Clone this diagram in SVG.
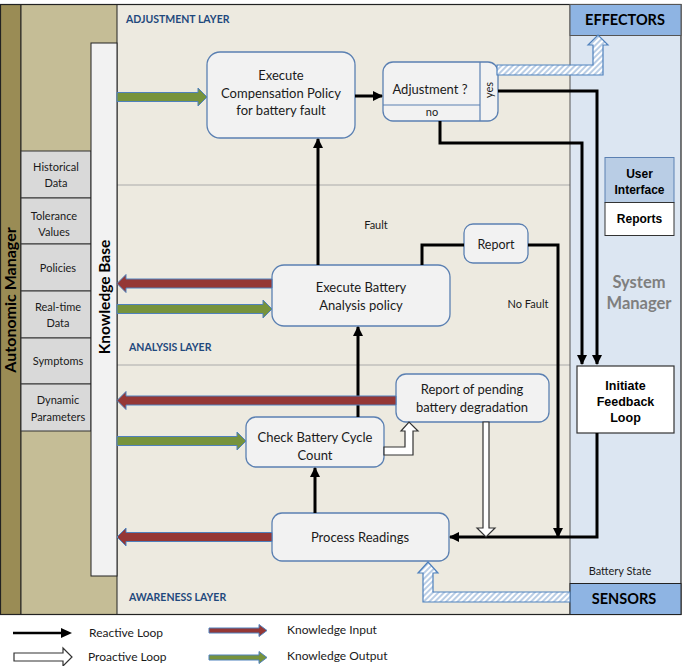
<svg xmlns="http://www.w3.org/2000/svg" width="685" height="666" viewBox="0 0 685 666">
<style>
.t{font-family:Lato,"Liberation Sans",sans-serif;fill:#1a1a1a}
.c{text-anchor:middle}
.lay{font-family:Lato,"Liberation Sans",sans-serif;font-weight:bold;font-size:10.5px;fill:#1f497d}
.a{font-family:"Liberation Sans",Arial,sans-serif;font-weight:bold;fill:#000;text-anchor:middle}
.box{fill:#f2f2f2;stroke:#5b80b2;stroke-width:1.3}
.item{fill:#d9d9d9;stroke:#333;stroke-width:1}
.ln{fill:none;stroke:#000;stroke-width:3}
.red{fill:#953735;stroke:#4f81bd;stroke-width:1}
.grn{fill:#77933c;stroke:#4f81bd;stroke-width:1}
.hol{fill:#fff;stroke:#333;stroke-width:1.2}
.hat{fill:url(#hatch);stroke:#4f81bd;stroke-width:1.2}
</style>
<defs>
<marker id="ah" markerWidth="10" markerHeight="10" viewBox="0 0 10 10" refX="9" refY="5" orient="auto" markerUnits="userSpaceOnUse">
<path d="M0,0 L10,5 L0,10 z" fill="#000"/>
</marker>
<pattern id="hatch" patternUnits="userSpaceOnUse" width="4" height="4" patternTransform="rotate(45)">
<rect width="4" height="4" fill="#fff"/>
<rect width="2" height="4" fill="#b9cde5"/>
</pattern>
</defs>

<g id="background">
<rect x="0" y="0" width="685" height="666" fill="#fff"/>
<rect x="117" y="4.5" width="453" height="610" fill="#edeae0"/>
<rect x="570" y="4.5" width="111" height="610" fill="#dce6f2"/>
<line x1="117" y1="185" x2="570" y2="185" stroke="#aaa" stroke-width="1"/>
<line x1="117" y1="365" x2="570" y2="365" stroke="#aaa" stroke-width="1"/>
<rect x="0.5" y="4.5" width="20.5" height="610" fill="#9a8c55" stroke="#222" stroke-width="1"/>
<rect x="21" y="4.5" width="96" height="610" fill="#c5bd96" stroke="#222" stroke-width="1"/>
<rect x="0.5" y="4.5" width="680.5" height="610" fill="none" stroke="#222" stroke-width="1.2"/>
<line x1="570" y1="4.5" x2="570" y2="614.5" stroke="#555" stroke-width="1"/>
</g>

<g id="autonomic-manager">
<text class="t" transform="translate(16,300) rotate(-90)" text-anchor="middle" font-size="16" font-weight="bold" style="fill:#000">Autonomic Manager</text>
</g>

<g id="knowledge-items">
<rect class="item" x="21" y="151" width="70" height="47"/>
<text class="t c" x="56" y="171" font-size="11">Historical</text>
<text class="t c" x="56" y="187" font-size="11">Data</text>
<rect class="item" x="21" y="198" width="70" height="46"/>
<text class="t c" x="54" y="220" font-size="11">Tolerance</text>
<text class="t c" x="54" y="236" font-size="11">Values</text>
<rect class="item" x="21" y="244" width="70" height="47"/>
<text class="t c" x="58" y="272" font-size="11">Policies</text>
<rect class="item" x="21" y="291" width="70" height="47"/>
<text class="t c" x="58" y="311" font-size="11">Real-time</text>
<text class="t c" x="58" y="327" font-size="11">Data</text>
<rect class="item" x="21" y="338" width="70" height="46"/>
<text class="t c" x="58" y="365" font-size="11">Symptoms</text>
<rect class="item" x="21" y="384" width="70" height="47"/>
<text class="t c" x="58" y="404" font-size="11">Dynamic</text>
<text class="t c" x="58" y="421" font-size="11">Parameters</text>
</g>

<g id="knowledge-base">
<rect x="91" y="43" width="26" height="533" fill="#f2f2f2" stroke="#222" stroke-width="1"/>
<text class="t" transform="translate(109.5,297) rotate(-90)" text-anchor="middle" font-size="15.5" font-weight="bold" style="fill:#000">Knowledge Base</text>
</g>

<g id="layer-labels">
<text class="lay" x="126" y="23">ADJUSTMENT LAYER</text>
<text class="lay" x="129" y="351">ANALYSIS LAYER</text>
<text class="lay" x="129" y="601">AWARENESS LAYER</text>
</g>

<g id="effectors">
<rect x="570" y="4.5" width="111" height="31" fill="#8eb4e3" stroke="#555" stroke-width="1"/>
<text class="t c" x="625" y="25" font-size="14.5" font-weight="bold" style="fill:#000">EFFECTORS</text>
</g>
<g id="sensors">
<rect x="570" y="583.5" width="111" height="31" fill="#8eb4e3" stroke="#222" stroke-width="1"/>
<text class="t c" x="624" y="604" font-size="14.5" font-weight="bold" style="fill:#000">SENSORS</text>
</g>
<g id="system-manager">
<text class="t c" x="639" y="288" font-size="16.5" font-weight="bold" style="fill:#7f7f7f">System</text>
<text class="t c" x="639" y="309" font-size="16.5" font-weight="bold" style="fill:#7f7f7f">Manager</text>
<text class="t c" x="620" y="575" font-size="11">Battery State</text>
</g>
<g id="user-interface">
<rect x="605" y="157.5" width="69" height="45" fill="#b9cde5" stroke="#5b80b2" stroke-width="1"/>
<rect x="605" y="202.5" width="69" height="33" fill="#fff" stroke="#333" stroke-width="1"/>
<text class="a" x="639.5" y="178" font-size="12">User</text>
<text class="a" x="639.5" y="194" font-size="12">Interface</text>
<text class="a" x="639.5" y="223" font-size="12">Reports</text>
</g>

<g id="compensation">
<rect class="box" x="207" y="52" width="148" height="86" rx="13"/>
<text class="t c" x="281" y="80" font-size="13">Execute</text>
<text class="t c" x="281" y="98" font-size="13">Compensation Policy</text>
<text class="t c" x="281" y="115" font-size="13">for battery fault</text>
</g>

<g id="adjustment">
<rect class="box" x="383" y="62" width="115" height="59" rx="10"/>
<line x1="383" y1="105" x2="480" y2="105" stroke="#5b80b2" stroke-width="1.2"/>
<line x1="480" y1="62" x2="480" y2="121" stroke="#5b80b2" stroke-width="1.2"/>
<text class="t c" x="430" y="94" font-size="13">Adjustment ?</text>
<text class="t c" x="432" y="116" font-size="11">no</text>
<text class="t" transform="translate(493,90) rotate(-90)" text-anchor="middle" font-size="11">yes</text>
</g>

<g id="report">
<rect class="box" x="464" y="224" width="64" height="39" rx="9"/>
<text class="t c" x="496" y="249" font-size="12.5">Report</text>
</g>

<g id="analysis">
<rect class="box" x="272" y="265" width="178" height="61" rx="12"/>
<text class="t c" x="361" y="292" font-size="13">Execute Battery</text>
<text class="t c" x="361" y="310" font-size="13">Analysis  policy</text>
</g>

<g id="pending">
<rect class="box" x="396" y="374" width="153" height="48" rx="10"/>
<text class="t c" x="472" y="394" font-size="13">Report of pending</text>
<text class="t c" x="472" y="412" font-size="13">battery degradation</text>
</g>

<g id="check">
<rect class="box" x="246" y="417" width="138" height="50" rx="10"/>
<text class="t c" x="315" y="442" font-size="13">Check Battery Cycle</text>
<text class="t c" x="315" y="460" font-size="13">Count</text>
</g>

<g id="process">
<rect class="box" x="272" y="513" width="177" height="48" rx="10"/>
<text class="t c" x="360" y="542" font-size="13">Process Readings</text>
</g>

<g id="feedback">
<rect x="577" y="366" width="97" height="67" fill="#fff" stroke="#333" stroke-width="1.2"/>
<text class="a" x="625.5" y="390" font-size="12.5">Initiate</text>
<text class="a" x="625.5" y="406" font-size="12.5">Feedback</text>
<text class="a" x="625.5" y="422" font-size="12.5">Loop</text>
</g>

<g id="connector-labels">
<text class="t c" x="376" y="229" font-size="11">Fault</text>
<text class="t c" x="528" y="308" font-size="11">No Fault</text>
</g>

<g id="connectors">
<line class="ln" x1="355" y1="96" x2="382" y2="96" marker-end="url(#ah)"/>
<line class="ln" x1="318" y1="265" x2="318" y2="139" marker-end="url(#ah)"/>
<line class="ln" x1="358" y1="417" x2="358" y2="327" marker-end="url(#ah)"/>
<line class="ln" x1="315" y1="513" x2="315" y2="468" marker-end="url(#ah)"/>
<polyline class="ln" points="498,91 597,91 597,364" marker-end="url(#ah)"/>
<polyline class="ln" points="440,121 440,143 582,143 582,364" marker-end="url(#ah)"/>
<polyline class="ln" points="464,245 422,245 422,265"/>
<polyline class="ln" points="528,245 558,245 558,537" marker-end="url(#ah)"/>
<polyline class="ln" points="597,433 597,537 450,537" marker-end="url(#ah)"/>
<polygon class="hol" points="384,447 405,447 405,431 401,431 409,422 418,431 413,431 413,455 384,455"/>
<polygon class="hol" points="483,422 489,422 489,528 495,528 486,537 477,528 483,528"/>
<polygon class="hat" points="497,65 593,65 593,45 588,45 598,35 608,45 603,45 603,75 497,75"/>
<polygon class="hat" points="570,592 433,592 433,573 438,573 428,562 418,573 423,573 423,602 570,602"/>
<polygon class="grn" points="117,92.5 198,92.5 198,88 207,97 198,106 198,101.5 117,101.5"/>
<polygon class="grn" points="117,304.5 263,304.5 263,300 272,309 263,318 263,313.5 117,313.5"/>
<polygon class="grn" points="117,436.5 237,436.5 237,432 246,441 237,450 237,445.5 117,445.5"/>
<polygon class="red" points="272,279 126,279 126,274.5 117,283.5 126,292.5 126,288 272,288"/>
<polygon class="red" points="396,396 126,396 126,391.5 117,400.5 126,409.5 126,405 396,405"/>
<polygon class="red" points="272,532.5 126,532.5 126,528 117,537 126,546 126,541.5 272,541.5"/>
</g>

<g id="legend">
<line x1="13" y1="633" x2="62" y2="633" stroke="#000" stroke-width="2.5"/>
<path d="M61,628 L72,633 L61,638 z" fill="#000"/>
<text class="t" x="89" y="637" font-size="12">Reactive Loop</text>
<polygon class="hol" points="14,653 63,653 63,648 72,657 63,666 63,661 14,661"/>
<text class="t" x="88" y="661" font-size="12">Proactive Loop</text>
<polygon class="red" points="209,628 259,628 259,624.5 267,630.5 259,636.5 259,633 209,633"/>
<text class="t" x="287" y="634" font-size="12">Knowledge Input</text>
<polygon class="grn" points="209,655 259,655 259,651.5 267,657.5 259,663.5 259,660 209,660"/>
<text class="t" x="287" y="660" font-size="12">Knowledge Output</text>
</g>
</svg>
